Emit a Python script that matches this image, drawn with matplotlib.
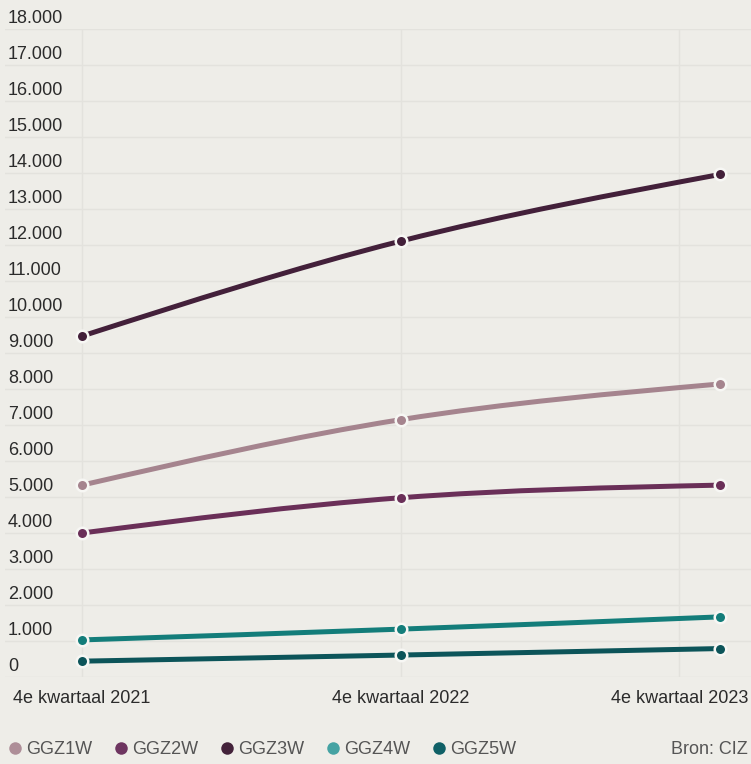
import numpy as np
import matplotlib.pyplot as plt
from matplotlib.path import Path
from matplotlib.patches import PathPatch
from matplotlib.lines import Line2D

plt.rcParams['font.family'] = ['Liberation Sans', 'DejaVu Sans']

# data
quarters = ['4e kwartaal 2021', '4e kwartaal 2022', '4e kwartaal 2023']
ggz1w = [5330, 7150, 8140]
ggz2w = [4000, 4980, 5330]
ggz3w = [9470, 12110, 13960]
ggz4w = [1030, 1330, 1670]
ggz5w = [440, 610, 790]
series_names = ['GGZ1W', 'GGZ2W', 'GGZ3W', 'GGZ4W', 'GGZ5W']
y_ticks = list(range(0, 18001, 1000))

line_colors = ['#a5848e', '#6a2f58', '#43203a', '#137d7a', '#0c5459']
legend_colors = ['#ae8e98', '#6e3560', '#43223a', '#45a3a3', '#0f6066']
bg = '#eeede8'
grid_c = '#e3e2dd'
txt_c = '#2b2b2b'


def monotone_path(xs, ys):
    # d3-style monotoneX curve as cubic bezier segments
    xs = np.asarray(xs, float)
    ys = np.asarray(ys, float)
    h = np.diff(xs)
    s = np.diff(ys) / h
    n = len(xs)
    t = np.zeros(n)
    for i in range(1, n - 1):
        p = (s[i - 1] * h[i] + s[i] * h[i - 1]) / (h[i - 1] + h[i])
        t[i] = (np.sign(s[i - 1]) + np.sign(s[i])) * min(abs(s[i - 1]), abs(s[i]), 0.5 * abs(p))
    t[0] = (3 * s[0] - t[1]) / 2
    t[-1] = (3 * s[-1] - t[-2]) / 2
    verts = [(xs[0], ys[0])]
    codes = [Path.MOVETO]
    for i in range(n - 1):
        d = h[i] / 3
        verts += [(xs[i] + d, ys[i] + d * t[i]),
                  (xs[i + 1] - d, ys[i + 1] - d * t[i + 1]),
                  (xs[i + 1], ys[i + 1])]
        codes += [Path.CURVE4] * 3
    return Path(verts, codes)


W, H = 751, 764
fig = plt.figure(figsize=(W / 100, H / 100), dpi=100, facecolor=bg)
ax = fig.add_axes([5 / W, (H - 677) / H, 746 / W, 648 / H], facecolor=bg)

x = np.arange(len(quarters))
ax.set_xlim(-77 / 319, 2 + 31 / 319)
ax.set_ylim(0, 18000)
for sp in ax.spines.values():
    sp.set_visible(False)
ax.set_xticks([])
ax.set_yticks([])

# horizontal grid + labels above the lines
for v in y_ticks:
    ax.axhline(v, color=grid_c, lw=1, zorder=0)
    ax.annotate(f'{v:,}'.replace(',', '.'), xy=(3 / 746, v),
                xycoords=('axes fraction', 'data'), xytext=(0, 4.3),
                textcoords='offset points', ha='left', va='baseline',
                fontsize=13, color=txt_c)

# x labels
xlabels = []
for i, q in enumerate(quarters):
    if i == len(quarters) - 1:
        t = ax.annotate(q, xy=(743 / 746, 0), xycoords='axes fraction',
                        xytext=(0, -18.7), textcoords='offset points',
                        ha='right', va='baseline', fontsize=13, color=txt_c)
    else:
        t = ax.annotate(q, xy=(x[i], 0), xycoords=('data', 'axes fraction'),
                        xytext=(0, -18.7), textcoords='offset points',
                        ha='center', va='baseline', fontsize=13, color=txt_c)
    xlabels.append(t)

# vertical grid lines under the label centres
fig.canvas.draw()
inv = ax.transData.inverted()
for t in xlabels:
    bb = t.get_window_extent()
    cx = inv.transform(((bb.x0 + bb.x1) / 2, 0))[0]
    ax.axvline(cx, color=grid_c, lw=1, zorder=0)

all_series = [ggz1w, ggz2w, ggz3w, ggz4w, ggz5w]
for k, ys in enumerate(all_series):
    patch = PathPatch(monotone_path(x, ys), facecolor='none',
                      edgecolor=line_colors[k], lw=3.6, capstyle='butt',
                      zorder=3 + k * 0.1)
    ax.add_patch(patch)
    ax.plot(x, ys, ls='none', marker='o', ms=8.3, mfc=line_colors[k],
            mec='#f7f7f4', mew=1.8, zorder=3.05 + k * 0.1)

# legend
handles = [Line2D([], [], ls='none', marker='o', ms=9, mfc=c, mec='none')
           for c in legend_colors]
fig.legend(handles, series_names, loc='center left',
           bbox_to_anchor=(10 / W, 1 - 750 / H), ncol=5, frameon=False,
           handlelength=0.6, handletextpad=0.3, columnspacing=1.3,
           borderpad=0, borderaxespad=0, fontsize=13, labelcolor='#555555')
fig.text(748 / W, 1 - 750 / H, 'Bron: CIZ', ha='right', va='center',
         fontsize=13, color='#555555')

fig.savefig('out.png', dpi=100, facecolor=bg)
